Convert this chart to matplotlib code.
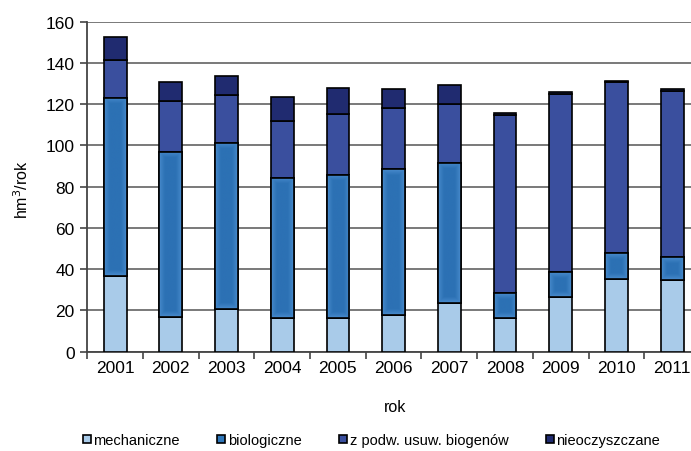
import matplotlib
matplotlib.use("Agg")
import matplotlib.pyplot as plt
from matplotlib.patches import Patch, Rectangle
from matplotlib.colors import to_rgb
import numpy as np

plt.rcParams['font.family'] = ['Liberation Sans', 'DejaVu Sans']

years = ['2001', '2002', '2003', '2004', '2005', '2006', '2007', '2008', '2009', '2010', '2011']
mechaniczne = [36.8, 16.7, 20.7, 16.2, 16.3, 17.9, 23.5, 16.2, 26.7, 35.3, 34.8]
biologiczne = [86.4, 80.3, 80.5, 67.9, 69.5, 70.7, 68.0, 12.1, 12.1, 12.6, 11.0]
z_podw_usuw_biogenow = [18.4, 24.4, 23.4, 27.6, 29.6, 29.4, 28.5, 86.5, 86.1, 82.7, 80.6]
nieoczyszczane = [10.8, 9.2, 8.9, 11.9, 12.3, 9.4, 9.3, 0.8, 1.2, 0.5, 1.0]

series = [
    ('mechaniczne', mechaniczne, '#a9cbe9'),
    ('biologiczne', biologiczne, '#2f77ba'),
    ('z podw. usuw. biogenów', z_podw_usuw_biogenow, '#3a4f9e'),
    ('nieoczyszczane', nieoczyszczane, '#202b70'),
]

fig = plt.figure(figsize=(6.91, 4.52), dpi=100)
ax = fig.add_axes([0.1263, 0.2197, 0.8867, 0.7301])
ax.set_xlim(-0.5, len(years) - 0.5)
ax.set_ylim(0, 160)

x = np.arange(len(years))
bottom = np.zeros(len(years))
containers = {}
for name, vals, color in series:
    vals = np.array(vals)
    containers[name] = ax.bar(x, vals, width=0.41, bottom=bottom, color=color,
                              edgecolor='black', linewidth=1.2, label=name, zorder=3)
    bottom += vals


def shade_bar(rect, light, dark, band_px=6.0, n=60):
    """Fill a bar with a soft inner glow: lighter at the border, darker inside."""
    x0, y0 = rect.get_x(), rect.get_y()
    w, h = rect.get_width(), rect.get_height()
    p0 = ax.transData.transform((x0, y0))
    p1 = ax.transData.transform((x0 + w, y0 + h))
    wpx, hpx = abs(p1[0] - p0[0]), abs(p1[1] - p0[1])
    xs = np.linspace(0, wpx, n)
    ys = np.linspace(0, hpx, max(int(hpx), 4))
    dx = np.minimum(xs, wpx - xs)[None, :]
    dy = np.minimum(ys, hpx - ys)[:, None]
    t = np.clip(np.minimum(dx, dy) / band_px, 0, 1) ** 0.8
    lc, dc = np.array(to_rgb(light)), np.array(to_rgb(dark))
    img = lc[None, None, :] * (1 - t[..., None]) + dc[None, None, :] * t[..., None]
    im = ax.imshow(img, extent=(x0, x0 + w, y0, y0 + h), origin='lower',
                   aspect='auto', interpolation='bilinear', zorder=3.2)
    im.set_clip_path(rect)
    ax.add_patch(Rectangle((x0, y0), w, h, facecolor='none', edgecolor='black',
                           linewidth=1.2, zorder=3.4))


for rect in containers['biologiczne']:
    shade_bar(rect, '#4a8cce', '#2c71b4')

ax.set_xlim(-0.5, len(years) - 0.5)
ax.set_ylim(0, 160)
ax.set_yticks(np.arange(0, 161, 20))
ax.yaxis.grid(True, color='#6e6e6e', linewidth=1.3, zorder=0)
ax.set_axisbelow(True)

# category ticks sit between the bars, labels centred under each bar
ax.set_xticks(np.arange(-0.5, len(years), 1.0))
ax.set_xticklabels([])
ax.set_xticks(x, minor=True)
ax.set_xticklabels(years, minor=True)
ax.tick_params(axis='x', which='minor', length=0, pad=6, labelsize=12.5)
ax.tick_params(axis='x', which='major', length=5, width=1.2, color='#444444', direction='out')
ax.tick_params(axis='y', length=5, width=1.2, color='#444444', labelsize=12.5, pad=4)

for side in ('top', 'right'):
    ax.spines[side].set_visible(False)
for side in ('left', 'bottom'):
    ax.spines[side].set_color('#444444')
    ax.spines[side].set_linewidth(1.3)

fig.text(0.032, 0.58, 'hm$^3$/rok', rotation=90, ha='center', va='center', fontsize=11.5)
fig.text(0.572, 0.099, 'rok', ha='center', va='center', fontsize=11.5)

handles = [Patch(facecolor=c, edgecolor='black', linewidth=1.2, label=n) for n, _, c in series]
fig.legend(handles=handles, loc='center', bbox_to_anchor=(0.5376, 0.024), ncol=4,
           frameon=False, fontsize=10.5, handlelength=0.55, handleheight=0.5,
           handletextpad=0.15, columnspacing=2.6)

fig.savefig('out.png', dpi=100)
